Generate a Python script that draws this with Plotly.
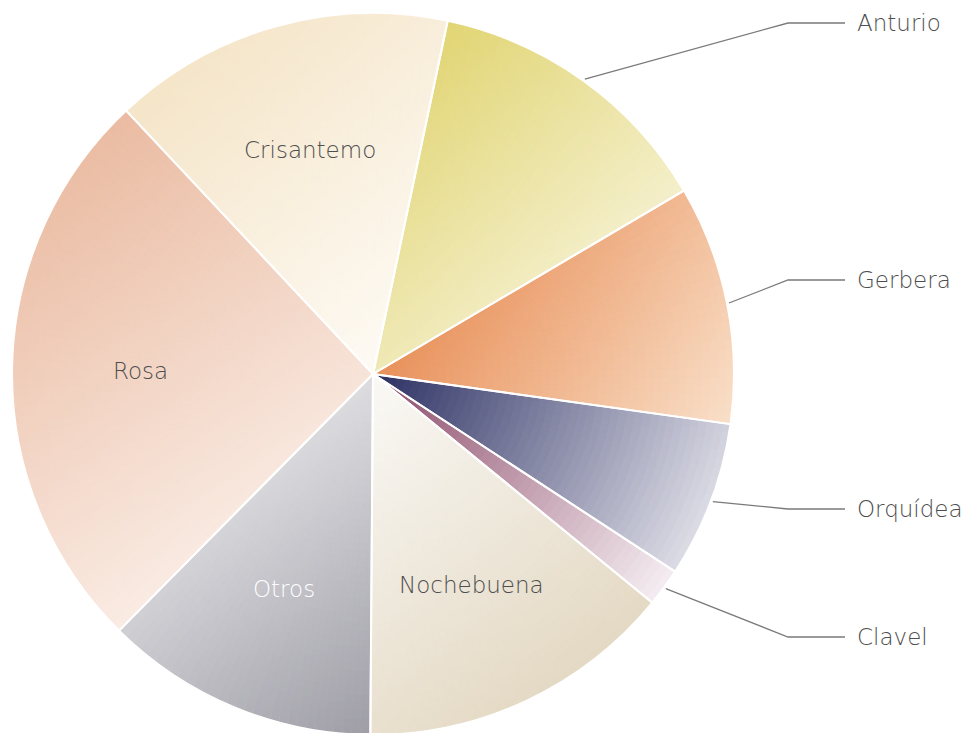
import math

import numpy as np
import plotly.graph_objects as go

flowers = ["Rosa", "Crisantemo", "Anturio", "Gerbera", "Orquídea", "Clavel", "Nochebuena", "Otros"]
shares = [25.6, 15.3, 13.2, 10.7, 7.0, 1.7, 14.2, 12.3]

# linear gradient of each slice, top-left corner of its box -> bottom-right corner
grad_start = ["#E8B498", "#F3E1C0", "#DED064", "#E47A3A", "#2C3163", "#8C4B69", "#FAF9F6", "#FCFCFD"]
grad_end = ["#FFFCFA", "#FFFDFA", "#FDFCF5", "#F9E0CA", "#F4F3F7", "#FAF5F8", "#DED0B6", "#9E9DA6"]

inside_labels = ["Rosa", "Crisantemo", "Nochebuena", "Otros"]
inside_colors = ["#4E4E4E", "#4E4E4E", "#4E4E4E", "#FFFFFF"]
callouts = ["Anturio", "Gerbera", "Orquídea", "Clavel"]
callout_y = [15, 272, 501, 629]

W, H = 970, 733
CX, CY, R = 365, 366, 361   # page body adds an 8px margin
START = 224.7      # first slice starts here, degrees clockwise from 12 o'clock
RINGS = 45         # gradients are painted as stacked pies
STEP = 1.5         # degrees per sub-slice
FONT = dict(family="DejaVu Sans", size=23, weight=300)


def paper(x, y):
    return x / W, 1 - y / H


def point(angle, r):
    a = math.radians(angle)
    return CX + r * math.sin(a), CY - r * math.cos(a)


def rgb(h):
    return np.array([int(h[i:i + 2], 16) for i in (1, 3, 5)], dtype=float)


def domain(r):
    return dict(x=[max(0, (CX - r) / W), min(1, (CX + r) / W)],
                y=[max(0, (H - CY - r) / H), min(1, (H - CY + r) / H)])


def slice_box(a0, a1):
    pts = [(CX, CY), point(a0, R), point(a1, R)]
    k = math.ceil(a0 / 90)
    while k * 90 < a1:
        pts.append(point(k * 90, R))
        k += 1
    xs, ys = zip(*pts)
    return np.array([min(xs), min(ys)]), np.array([max(xs), max(ys)])


total = sum(shares)
spans = np.array(shares) / total * 360
ends = START + np.cumsum(spans)
starts = ends - spans
mids = (starts + ends) / 2
boxes = [slice_box(a0, a1) for a0, a1 in zip(starts, ends)]
subs = [max(2, math.ceil(s / STEP)) for s in spans]
sub_values = [shares[i] / subs[i] for i in range(len(shares)) for _ in range(subs[i])]

fig = go.Figure()

for k in range(RINGS, 0, -1):
    rm = (k - 0.5) / RINGS * R
    cols = []
    for i in range(len(shares)):
        tl, br = boxes[i]
        d = br - tl
        c0, c1 = rgb(grad_start[i]), rgb(grad_end[i])
        for j in range(subs[i]):
            p = np.array(point(starts[i] + (j + 0.5) * spans[i] / subs[i], rm))
            t = float(np.clip(np.dot(p - tl, d) / np.dot(d, d), 0, 1))
            c = np.round(c0 + (c1 - c0) * t).astype(int)
            cols.append(f"rgb({c[0]},{c[1]},{c[2]})")
    fig.add_trace(go.Pie(
        values=sub_values, sort=False, direction="clockwise", rotation=START,
        domain=domain(k / RINGS * R),
        marker=dict(colors=cols, line=dict(color=cols, width=0.6)),
        textinfo="none", hoverinfo="skip", showlegend=False,
    ))

# white separators + hover on top
fig.add_trace(go.Pie(
    labels=flowers, values=shares, sort=False, direction="clockwise", rotation=START,
    domain=domain(R),
    marker=dict(colors=["rgba(0,0,0,0)"] * len(flowers), line=dict(color="white", width=2)),
    textinfo="none", hovertemplate="%{label}: %{percent}<extra></extra>", showlegend=False,
))

annotations = []
for name, color in zip(inside_labels, inside_colors):
    x, y = paper(*point(mids[flowers.index(name)], 0.645 * R))
    annotations.append(dict(x=x, y=y, xref="paper", yref="paper", text=name, showarrow=False,
                            xanchor="center", yanchor="middle", font=dict(FONT, color=color)))

shapes = []
for name, ly in zip(callouts, callout_y):
    sx, sy = paper(*point(mids[flowers.index(name)], R + 2))
    ex, ey = paper(780, ly)
    fx, fy = paper(837, ly)
    shapes.append(dict(type="path", xref="paper", yref="paper",
                       path=f"M {sx},{sy} L {ex},{ey} L {fx},{fy}",
                       line=dict(color="#7A7A7A", width=1.3)))
    tx, ty = paper(847, ly)
    annotations.append(dict(x=tx, y=ty, xref="paper", yref="paper", text=name, showarrow=False,
                            xanchor="left", yanchor="middle", font=dict(FONT, color="#4E4E4E")))

fig.update_layout(
    width=W, height=H,
    margin=dict(l=0, r=0, t=0, b=0),
    paper_bgcolor="white", plot_bgcolor="white",
    showlegend=False,
    annotations=annotations, shapes=shapes,
)

fig.write_html("out.html")
